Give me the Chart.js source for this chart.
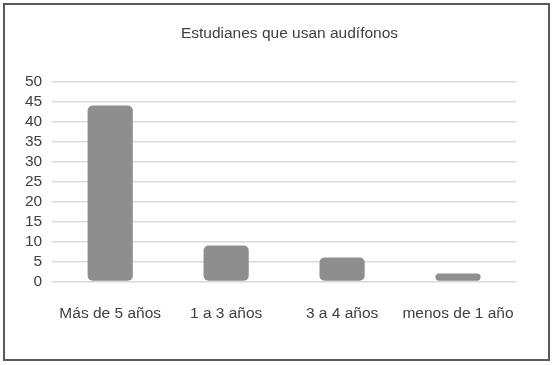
<!DOCTYPE html>
<html>
<head>
<meta charset="utf-8">
<script src="https://cdn.jsdelivr.net/npm/chart.js@4"></script>
<style>
  html, body { margin: 0; padding: 0; background: #fff; }
  #frame {
    position: absolute; left: 3px; top: 3px;
    width: 543px; height: 354px;
    border: 2px solid #5a5a5a; background: #fff;
  }
  #wrap { position: absolute; left: 0; top: 0; width: 543px; height: 354px; }
</style>
</head>
<body>
<div id="frame"><div id="wrap"><canvas id="showGraphUsers"></canvas></div></div>
<script>
var categories = ['Más de 5 años', '1 a 3 años', '3 a 4 años', 'menos de 1 año'];
var students = [44, 9, 6, 2];
var yTicks = [0, 5, 10, 15, 20, 25, 30, 35, 40, 45, 50];

var myChartUsers;

// the title sits a bit right of the canvas centre in the original
var shiftTitle = {
    id: 'shiftTitle',
    afterLayout: function (chart) {
        chart.titleBlock.left += 24;
        chart.titleBlock.right += 24;
    }
};

drawChart();

function drawChart() {
    var datasets = [
        {
            label: 'Estudiantes',
            data: students,
            backgroundColor: '#8e8e8e',
            borderRadius: 5,
            borderSkipped: false,
            barPercentage: 0.39,
            categoryPercentage: 1,
        }
    ];
    var config = {
        type: 'bar',
        data: { labels: categories, datasets: datasets },
        options: {
            responsive: true,
            maintainAspectRatio: false,
            animation: false,
            layout: { padding: { left: 10, right: 32, top: 8, bottom: 21 } },
            plugins: {
                legend: { display: false },
                tooltip: { enabled: false },
                title: {
                    display: true,
                    text: 'Estudianes que usan audífonos',
                    color: '#404040',
                    font: { family: 'Liberation Sans', size: 15.5, weight: 'normal' },
                    padding: { top: 11, bottom: 39 }
                }
            },
            scales: {
                x: {
                    grid: { display: false },
                    border: { display: false },
                    ticks: {
                        color: '#404040',
                        font: { family: 'Liberation Sans', size: 15.5 },
                        padding: 15,
                        maxRotation: 0,
                        autoSkip: false
                    }
                },
                y: {
                    min: 0,
                    max: 50,
                    afterBuildTicks: function (axis) {
                        axis.ticks = yTicks.map(function (v) { return { value: v }; });
                    },
                    grid: { color: '#d9d9d9', lineWidth: 1.5, drawTicks: false },
                    border: { display: false },
                    ticks: {
                        color: '#404040',
                        font: { family: 'Liberation Sans', size: 15.5, lineHeight: 1 },
                        padding: 10,
                        autoSkip: false
                    }
                }
            }
        },
        plugins: [shiftTitle]
    };
    myChartUsers = new Chart(document.querySelector('#showGraphUsers').getContext('2d'), config);
}
</script>
</body>
</html>
